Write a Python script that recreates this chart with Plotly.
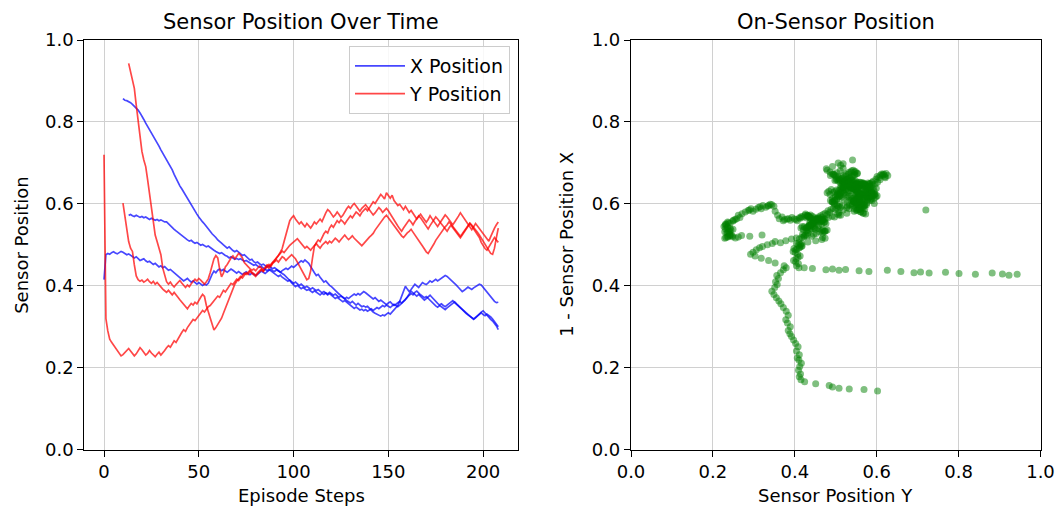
import plotly.graph_objects as go

# ---------------- data ----------------
start_A = 0
x_pos_A = [
    0.415, 0.476, 0.479, 0.477, 0.481, 0.483, 0.480, 0.478, 0.481, 0.484,
    0.482, 0.479, 0.476, 0.478, 0.474, 0.470, 0.468, 0.471, 0.466, 0.462,
    0.464, 0.466, 0.461, 0.458, 0.460, 0.455, 0.452, 0.455, 0.450, 0.446,
    0.449, 0.444, 0.447, 0.442, 0.438, 0.440, 0.436, 0.433, 0.428, 0.424,
    0.420, 0.416, 0.412, 0.415, 0.418, 0.413, 0.409, 0.412, 0.407, 0.404,
    0.408, 0.405, 0.401, 0.404, 0.402, 0.406, 0.418, 0.428, 0.436, 0.432,
    0.438, 0.441, 0.437, 0.440, 0.436, 0.433, 0.437, 0.441, 0.438, 0.434,
    0.431, 0.435, 0.432, 0.428, 0.431, 0.434, 0.430, 0.427, 0.431, 0.428,
    0.425, 0.428, 0.432, 0.436, 0.433, 0.430, 0.434, 0.438, 0.441, 0.437,
    0.435, 0.439, 0.436, 0.433, 0.437, 0.440, 0.443, 0.440, 0.444, 0.448,
    0.445, 0.449, 0.453, 0.457, 0.461, 0.458, 0.463, 0.459, 0.455, 0.447,
    0.438, 0.432, 0.425, 0.428, 0.421, 0.415, 0.409, 0.412, 0.405, 0.401,
    0.398, 0.393, 0.389, 0.384, 0.380, 0.376, 0.373, 0.369, 0.364, 0.361,
    0.358, 0.362, 0.356, 0.353, 0.357, 0.352, 0.349, 0.351, 0.348, 0.350,
    0.345, 0.340, 0.336, 0.333, 0.330, 0.327, 0.326, 0.329, 0.327, 0.331,
    0.334, 0.331, 0.336, 0.341, 0.347, 0.352, 0.362, 0.375, 0.388, 0.399,
    0.392, 0.386, 0.391, 0.398, 0.404, 0.400, 0.396, 0.402, 0.408, 0.405,
    0.403, 0.407, 0.412, 0.409, 0.413, 0.416, 0.412, 0.415, 0.419, 0.422,
    0.425, 0.423, 0.419, 0.414, 0.409, 0.405, 0.401, 0.396, 0.390, 0.386,
    0.389, 0.393, 0.397, 0.394, 0.391, 0.395, 0.398, 0.401, 0.404, 0.402,
    0.396, 0.390, 0.384, 0.378, 0.372, 0.368, 0.362, 0.359, 0.360,
]
y_pos_A = [
    0.720, 0.320, 0.290, 0.270, 0.262, 0.255, 0.248, 0.241, 0.236, 0.229,
    0.232, 0.237, 0.243, 0.247, 0.241, 0.236, 0.229, 0.234, 0.241, 0.249,
    0.244, 0.238, 0.231, 0.235, 0.242, 0.236, 0.230, 0.227, 0.233, 0.238,
    0.231, 0.236, 0.242, 0.249, 0.254, 0.250, 0.258, 0.266, 0.262, 0.271,
    0.279, 0.286, 0.293, 0.289, 0.298, 0.305, 0.311, 0.318, 0.315, 0.322,
    0.329, 0.334, 0.340, 0.336, 0.344, 0.349, 0.352, 0.358, 0.362, 0.369,
    0.375, 0.372, 0.381, 0.389, 0.385, 0.393, 0.399, 0.406, 0.403, 0.411,
    0.416, 0.413, 0.419, 0.425, 0.431, 0.428, 0.434, 0.438, 0.433, 0.430,
    0.426, 0.432, 0.437, 0.441, 0.436, 0.443, 0.448, 0.452, 0.447, 0.455,
    0.459, 0.463, 0.458, 0.466, 0.471, 0.468, 0.462, 0.467, 0.473, 0.476,
    0.471, 0.466, 0.458, 0.449, 0.440, 0.430, 0.421, 0.415, 0.418, 0.436,
    0.468, 0.497, 0.505, 0.512, 0.508, 0.518, 0.527, 0.533, 0.529, 0.541,
    0.548, 0.543, 0.552, 0.559, 0.554, 0.561, 0.557, 0.551, 0.558, 0.565,
    0.571, 0.566, 0.574, 0.580, 0.576, 0.571, 0.579, 0.584, 0.589, 0.583,
    0.591, 0.598, 0.605, 0.601, 0.609, 0.616, 0.623, 0.618, 0.612, 0.627,
    0.620, 0.614, 0.621, 0.608, 0.602, 0.596, 0.599, 0.591, 0.586, 0.594,
    0.588, 0.579, 0.584, 0.576, 0.570, 0.563, 0.569, 0.575, 0.568, 0.561,
    0.555, 0.562, 0.571, 0.564, 0.558, 0.551, 0.545, 0.552, 0.560, 0.566,
    0.573, 0.568, 0.561, 0.555, 0.549, 0.556, 0.562, 0.570, 0.578, 0.571,
    0.565, 0.558, 0.551, 0.543, 0.537, 0.544, 0.552, 0.546, 0.540, 0.533,
    0.528, 0.521, 0.515, 0.509, 0.520, 0.532, 0.541, 0.549, 0.556,
]

start_B = 10
x_pos_B = [
    0.857, 0.853, 0.852, 0.850, 0.847, 0.843, 0.839, 0.834, 0.829, 0.822,
    0.815, 0.806, 0.797, 0.789, 0.781, 0.776, 0.768, 0.759, 0.749, 0.741,
    0.732, 0.724, 0.717, 0.709, 0.700, 0.691, 0.683, 0.672, 0.662, 0.653,
    0.644, 0.637, 0.629, 0.621, 0.613, 0.604, 0.597, 0.590, 0.582, 0.575,
    0.568, 0.561, 0.556, 0.551, 0.544, 0.538, 0.533, 0.527, 0.523, 0.518,
    0.512, 0.507, 0.504, 0.500, 0.497, 0.492, 0.495, 0.490, 0.486, 0.483,
    0.486, 0.482, 0.478, 0.474, 0.476, 0.471, 0.467, 0.463, 0.465, 0.459,
    0.456, 0.458, 0.454, 0.451, 0.453, 0.449, 0.446, 0.448, 0.445, 0.442,
    0.444, 0.440, 0.437, 0.433, 0.430, 0.427, 0.423, 0.418, 0.413, 0.407,
    0.402, 0.398, 0.401, 0.397, 0.393, 0.396, 0.392, 0.389, 0.391, 0.387,
    0.384, 0.388, 0.385, 0.381, 0.378, 0.382, 0.379, 0.383, 0.380, 0.384,
    0.381, 0.377, 0.380, 0.376, 0.372, 0.375, 0.371, 0.368, 0.372, 0.369,
    0.373, 0.376, 0.380, 0.377, 0.381, 0.378, 0.382, 0.386, 0.383, 0.379,
    0.375, 0.372, 0.368, 0.371, 0.366, 0.362, 0.365, 0.361, 0.357, 0.354,
    0.358, 0.361, 0.356, 0.352, 0.355, 0.359, 0.362, 0.358, 0.362, 0.366,
    0.372, 0.377, 0.381, 0.378, 0.384, 0.387, 0.382, 0.378, 0.375, 0.371,
    0.374, 0.369, 0.364, 0.359, 0.355, 0.351, 0.348, 0.352, 0.349, 0.345,
    0.342, 0.346, 0.350, 0.353, 0.357, 0.361, 0.356, 0.351, 0.347, 0.342,
    0.337, 0.333, 0.329, 0.326, 0.322, 0.319, 0.323, 0.327, 0.331, 0.334,
    0.330, 0.327, 0.331, 0.328, 0.324, 0.319, 0.313, 0.306, 0.300,
]
y_pos_B = [
    0.602, 0.569, 0.533, 0.508, 0.492, 0.484, 0.451, 0.424, 0.415, 0.411,
    0.414, 0.409, 0.412, 0.416, 0.410, 0.406, 0.411, 0.404, 0.408, 0.402,
    0.397, 0.392, 0.388, 0.384, 0.389, 0.382, 0.378, 0.384, 0.379, 0.372,
    0.366, 0.361, 0.355, 0.349, 0.344, 0.351, 0.357, 0.353, 0.360, 0.356,
    0.365, 0.372, 0.379, 0.374, 0.352, 0.336, 0.318, 0.303, 0.292, 0.298,
    0.306, 0.314, 0.321, 0.333, 0.345, 0.352, 0.365, 0.378, 0.392, 0.404,
    0.411, 0.417, 0.423, 0.419, 0.426, 0.432, 0.428, 0.436, 0.431, 0.427,
    0.423, 0.429, 0.434, 0.439, 0.435, 0.442, 0.447, 0.443, 0.451, 0.456,
    0.461, 0.467, 0.474, 0.482, 0.491, 0.508, 0.527, 0.545, 0.559, 0.566,
    0.571, 0.563, 0.557, 0.551, 0.556, 0.549, 0.544, 0.552, 0.547, 0.541,
    0.548, 0.556, 0.551, 0.558, 0.563, 0.557, 0.569, 0.578, 0.586, 0.582,
    0.575, 0.568, 0.573, 0.580, 0.574, 0.567, 0.572, 0.581, 0.588, 0.594,
    0.589, 0.596, 0.601, 0.595, 0.588, 0.582, 0.589, 0.594, 0.598, 0.592,
    0.586, 0.579, 0.573, 0.578, 0.584, 0.591, 0.586, 0.579, 0.584, 0.589,
    0.583, 0.575, 0.568, 0.561, 0.552, 0.546, 0.539, 0.533, 0.541, 0.548,
    0.555, 0.561, 0.556, 0.549, 0.557, 0.564, 0.571, 0.566, 0.559, 0.553,
    0.546, 0.539, 0.547, 0.554, 0.561, 0.568, 0.563, 0.557, 0.551, 0.545,
    0.539, 0.533, 0.541, 0.548, 0.542, 0.535, 0.528, 0.522, 0.517, 0.524,
    0.531, 0.538, 0.545, 0.552, 0.546, 0.539, 0.532, 0.525, 0.518, 0.506,
    0.498, 0.491, 0.487, 0.495, 0.503, 0.511, 0.518, 0.512, 0.506,
]

start_C = 13
x_pos_C = [
    0.572, 0.574, 0.571, 0.569, 0.572, 0.570, 0.567,
    0.569, 0.566, 0.568, 0.565, 0.562, 0.565, 0.563, 0.560, 0.562, 0.559,
    0.561, 0.558, 0.556, 0.556, 0.551, 0.546, 0.542, 0.538, 0.534, 0.530,
    0.527, 0.523, 0.519, 0.516, 0.512, 0.509, 0.511, 0.507, 0.504, 0.506,
    0.502, 0.499, 0.501, 0.497, 0.495, 0.497, 0.493, 0.490, 0.487, 0.484,
    0.482, 0.479, 0.481, 0.477, 0.474, 0.472, 0.468, 0.471, 0.467, 0.465,
    0.467, 0.464, 0.466, 0.463, 0.460, 0.462, 0.459, 0.456, 0.453, 0.450,
    0.452, 0.448, 0.445, 0.447, 0.443, 0.440, 0.437, 0.440, 0.436, 0.432,
    0.429, 0.426, 0.423, 0.426, 0.421, 0.417, 0.414, 0.411, 0.414, 0.410,
    0.406, 0.409, 0.405, 0.401, 0.404, 0.400, 0.396, 0.399, 0.395, 0.392,
    0.395, 0.391, 0.388, 0.391, 0.387, 0.383, 0.386, 0.382, 0.378, 0.381,
    0.377, 0.373, 0.369, 0.372, 0.368, 0.364, 0.361, 0.364, 0.360, 0.356,
    0.352, 0.349, 0.345, 0.348, 0.344, 0.341, 0.343, 0.339, 0.342, 0.338,
    0.341, 0.344, 0.340, 0.343, 0.347, 0.344, 0.348, 0.352, 0.349, 0.353,
    0.350, 0.347, 0.351, 0.355, 0.352, 0.349, 0.353, 0.357, 0.360, 0.366,
    0.373, 0.381, 0.387, 0.383, 0.379, 0.375, 0.379, 0.374, 0.370, 0.365,
    0.369, 0.373, 0.377, 0.372, 0.366, 0.361, 0.357, 0.353, 0.356, 0.352,
    0.349, 0.353, 0.357, 0.361, 0.364, 0.359, 0.355, 0.351, 0.346, 0.342,
    0.337, 0.333, 0.329, 0.325, 0.321, 0.318, 0.322, 0.327, 0.332, 0.336,
    0.339, 0.333, 0.327, 0.322, 0.318, 0.314, 0.309, 0.302, 0.293,
]
y_pos_C = [
    0.943, 0.923, 0.907, 0.882, 0.841, 0.801, 0.768,
    0.728, 0.707, 0.691, 0.659, 0.626, 0.581, 0.557, 0.524, 0.508, 0.492,
    0.476, 0.443, 0.423, 0.410, 0.404, 0.409, 0.402, 0.397, 0.403, 0.408,
    0.413, 0.407, 0.401, 0.396, 0.402, 0.398, 0.405, 0.411, 0.416, 0.412,
    0.418, 0.414, 0.409, 0.404, 0.410, 0.417, 0.432, 0.451, 0.466, 0.474,
    0.468, 0.441, 0.422, 0.431, 0.446, 0.452, 0.461, 0.468, 0.473, 0.466,
    0.472, 0.479, 0.475, 0.468, 0.457, 0.451, 0.447, 0.442, 0.438, 0.441,
    0.437, 0.443, 0.448, 0.444, 0.439, 0.445, 0.451, 0.447, 0.453, 0.458,
    0.463, 0.469, 0.474, 0.479, 0.485, 0.481, 0.488, 0.494, 0.499, 0.503,
    0.506, 0.511, 0.515, 0.509, 0.503, 0.497, 0.492, 0.496, 0.491, 0.487,
    0.493, 0.498, 0.503, 0.497, 0.492, 0.499, 0.504, 0.508, 0.503, 0.509,
    0.505, 0.511, 0.516, 0.512, 0.507, 0.513, 0.519, 0.524, 0.518, 0.513,
    0.517, 0.522, 0.516, 0.511, 0.506, 0.501, 0.498, 0.503, 0.509, 0.514,
    0.519, 0.523, 0.528, 0.536, 0.543, 0.549, 0.555, 0.562, 0.568, 0.572,
    0.566, 0.559, 0.552, 0.546, 0.539, 0.533, 0.528, 0.522, 0.518, 0.524,
    0.529, 0.533, 0.538, 0.531, 0.525, 0.518, 0.511, 0.504, 0.497, 0.489,
    0.483, 0.479, 0.486, 0.494, 0.502, 0.511, 0.518, 0.524, 0.531, 0.537,
    0.544, 0.549, 0.556, 0.551, 0.545, 0.539, 0.533, 0.527, 0.521, 0.527,
    0.534, 0.541, 0.547, 0.553, 0.548, 0.543, 0.537, 0.531, 0.524, 0.517,
    0.509, 0.501, 0.494, 0.486, 0.479, 0.477, 0.492, 0.518, 0.541,
]

episodes = [
    (start_A, x_pos_A, y_pos_A),
    (start_B, x_pos_B, y_pos_B),
    (start_C, x_pos_C, y_pos_C),
]

title_left = "Sensor Position Over Time"
title_right = "On-Sensor Position"
xlabel_left = "Episode Steps"
ylabel_left = "Sensor Position"
xlabel_right = "Sensor Position Y"
ylabel_right = "1 - Sensor Position X"
legend_labels = ["X Position", "Y Position"]

# ---------------- figure ----------------
W, H = 1059, 511
BLUE = "rgba(0,0,255,0.72)"
RED = "rgba(255,0,0,0.72)"
GREEN = "rgba(0,128,0,0.5)"
FONT = "DejaVu Sans, Arial, sans-serif"


def px(x):
    return x / W


def py(y):
    return 1 - y / H


fig = go.Figure()

for i, (st, xs, ys) in enumerate(episodes):
    steps = list(range(st, st + len(xs)))
    fig.add_trace(go.Scatter(
        x=steps, y=xs, mode="lines", xaxis="x", yaxis="y",
        line=dict(color=BLUE, width=1.7),
        name=legend_labels[0], legendgroup="x", showlegend=(i == 0),
    ))
    fig.add_trace(go.Scatter(
        x=steps, y=ys, mode="lines", xaxis="x", yaxis="y",
        line=dict(color=RED, width=1.7),
        name=legend_labels[1], legendgroup="y", showlegend=(i == 0),
    ))

sc_x, sc_y = [], []
for st, xs, ys in episodes:
    for xv, yv in zip(xs, ys):
        sc_x.append(yv)
        sc_y.append(1 - xv)

fig.add_trace(go.Scatter(
    x=sc_x, y=sc_y, mode="markers", xaxis="x2", yaxis="y2",
    marker=dict(color=GREEN, size=7, line=dict(width=0)),
    showlegend=False,
))

px_l0, px_l1 = 84.3, 518.0
px_r0, px_r1 = 631.0, 1040.5
py_top, py_bot = 40.0, 449.7

dom_y = [py(py_bot), py(py_top)]

axis_common = dict(
    showline=True, linecolor="black", linewidth=1.2, mirror=True,
    ticks="outside", ticklen=6, tickwidth=1.2, tickcolor="black",
    showgrid=True, gridcolor="#d0d0d0", gridwidth=1,
    zeroline=False, automargin=False,
    tickfont=dict(family=FONT, size=18, color="black"),
)

fig.update_layout(
    width=W, height=H,
    margin=dict(l=0, r=0, t=0, b=0, autoexpand=False),
    paper_bgcolor="white", plot_bgcolor="white",
    xaxis=dict(domain=[px(px_l0), px(px_l1)], range=[-10.4, 218.4],
               tickvals=[0, 50, 100, 150, 200], anchor="y", **axis_common),
    yaxis=dict(domain=dom_y, range=[0, 1], tickvals=[0, 0.2, 0.4, 0.6, 0.8, 1.0],
               tickformat=".1f", anchor="x", **axis_common),
    xaxis2=dict(domain=[px(px_r0), px(px_r1)], range=[0, 1],
                tickvals=[0, 0.2, 0.4, 0.6, 0.8, 1.0], tickformat=".1f",
                anchor="y2", **axis_common),
    yaxis2=dict(domain=dom_y, range=[0, 1], tickvals=[0, 0.2, 0.4, 0.6, 0.8, 1.0],
                tickformat=".1f", anchor="x2", **axis_common),
    legend=dict(
        x=px(510), y=py(46), xanchor="right", yanchor="top",
        bgcolor="rgba(255,255,255,0.85)", bordercolor="#cccccc", borderwidth=1,
        font=dict(family=FONT, size=19, color="black"),
        tracegroupgap=0, itemwidth=50,
    ),
    font=dict(family=FONT, color="black"),
)

ann = []
cx_l = px((px_l0 + px_l1) / 2)
cx_r = px((px_r0 + px_r1) / 2)
cy = py((py_top + py_bot) / 2)
ann.append(dict(text=title_left, x=cx_l, y=py(22), xref="paper", yref="paper",
                showarrow=False, font=dict(family=FONT, size=21), xanchor="center", yanchor="middle"))
ann.append(dict(text=title_right, x=cx_r, y=py(22), xref="paper", yref="paper",
                showarrow=False, font=dict(family=FONT, size=21), xanchor="center", yanchor="middle"))
ann.append(dict(text=xlabel_left, x=cx_l, y=py(495), xref="paper", yref="paper",
                showarrow=False, font=dict(family=FONT, size=18), xanchor="center", yanchor="middle"))
ann.append(dict(text=xlabel_right, x=cx_r, y=py(495), xref="paper", yref="paper",
                showarrow=False, font=dict(family=FONT, size=18), xanchor="center", yanchor="middle"))
ann.append(dict(text=ylabel_left, x=px(22), y=cy, xref="paper", yref="paper",
                showarrow=False, font=dict(family=FONT, size=18), textangle=-90,
                xanchor="center", yanchor="middle"))
ann.append(dict(text=ylabel_right, x=px(567), y=cy, xref="paper", yref="paper",
                showarrow=False, font=dict(family=FONT, size=18), textangle=-90,
                xanchor="center", yanchor="middle"))
fig.update_layout(annotations=ann)

fig.write_html(
    "out.html",
    config={"displayModeBar": False},
    post_script="document.body.style.margin='0';document.body.style.overflow='hidden';",
)
